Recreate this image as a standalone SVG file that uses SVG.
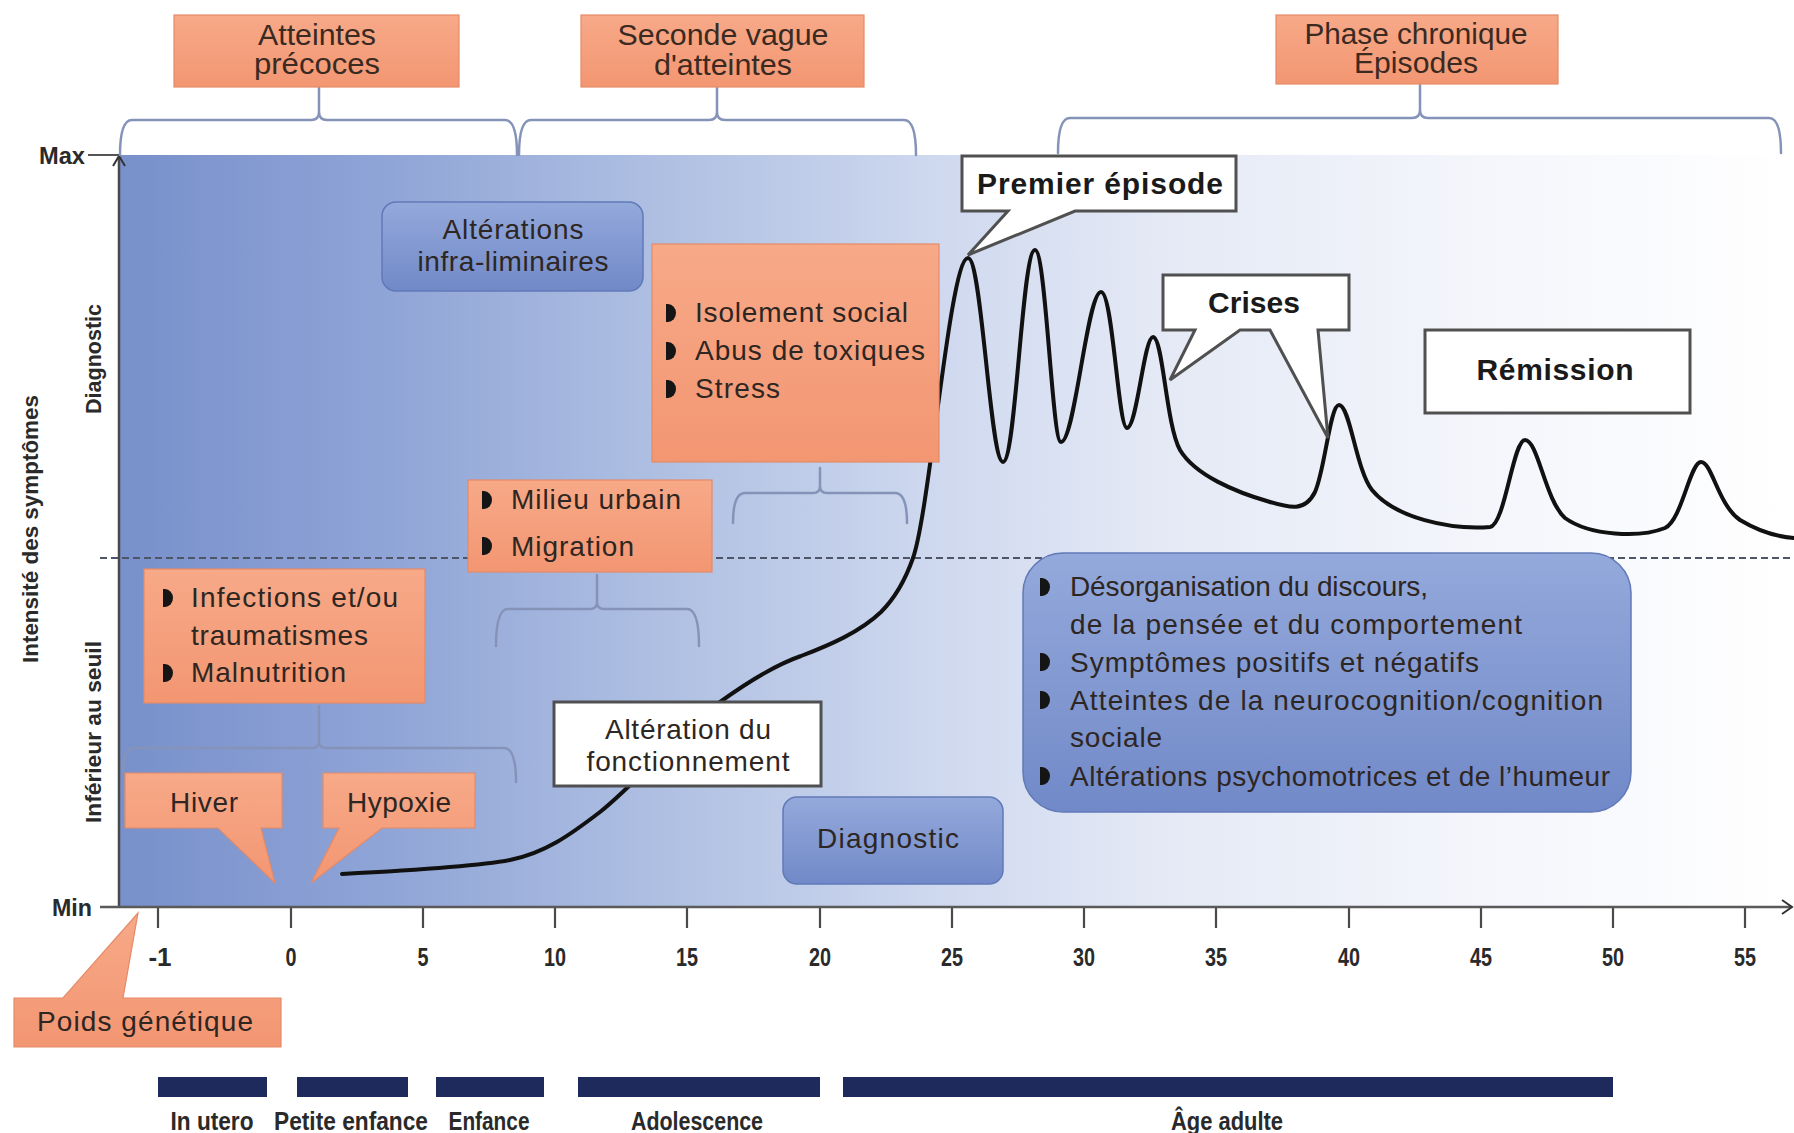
<svg xmlns="http://www.w3.org/2000/svg" xmlns:xlink="http://www.w3.org/1999/xlink" width="1794" height="1133" viewBox="0 0 1794 1133">
<style>
.t{font-family:"Liberation Sans",Arial,sans-serif;fill:#2e2622;font-size:28px}
.tb{font-family:"Liberation Sans",Arial,sans-serif;fill:#1a1a1a;font-size:30px;font-weight:bold}
.c{font-family:"Liberation Sans Narrow","Liberation Sans",Arial,sans-serif;fill:#2a2a2a;font-weight:bold}
.top{font-family:"Liberation Sans Narrow","Liberation Sans",Arial,sans-serif;fill:#3a2a22;font-size:29px}
.or{fill:url(#og);stroke:#e48a68;stroke-width:1.2}
.bl{fill:url(#bg2);stroke:#6179b8;stroke-width:1.5}
.wh{fill:#ffffff;stroke:#505050;stroke-width:3}
.br{fill:none;stroke:#8593b8;stroke-width:2.5;stroke-linecap:round}
.tick{stroke:#4a4a4a;stroke-width:2.2}
</style>
<defs>
<linearGradient id="bgp" x1="0" y1="0" x2="1" y2="0">
<stop offset="0" stop-color="#7890cb"/>
<stop offset="0.15" stop-color="#8ea3d6"/>
<stop offset="0.32" stop-color="#aebfe2"/>
<stop offset="0.48" stop-color="#cdd7ee"/>
<stop offset="0.62" stop-color="#e4e9f5"/>
<stop offset="0.8" stop-color="#f3f5fb"/>
<stop offset="1" stop-color="#ffffff"/>
</linearGradient>
<linearGradient id="og" x1="0" y1="0" x2="0" y2="1">
<stop offset="0" stop-color="#f7a988"/>
<stop offset="1" stop-color="#f39672"/>
</linearGradient>
<linearGradient id="bg2" x1="0" y1="0" x2="0" y2="1">
<stop offset="0" stop-color="#94a9db"/>
<stop offset="1" stop-color="#7189c8"/>
</linearGradient>
<path id="bul" d="M-2,-9 h2 a8,9 0 0 1 0,18 h-2 Z" fill="#151515"/>
</defs>

<rect width="1794" height="1133" fill="#ffffff"/>
<rect x="119" y="155" width="1675" height="752" fill="url(#bgp)"/>

<g id="axes">
<line x1="119" y1="907" x2="119" y2="157" stroke="#4a4a4a" stroke-width="2.5"/>
<path d="M113,166 L119,156 L125,166" fill="none" stroke="#333" stroke-width="2"/>
<line x1="88" y1="155" x2="119" y2="155" stroke="#555" stroke-width="2"/>
<line x1="100" y1="907" x2="1791" y2="907" stroke="#5a5a5a" stroke-width="2.5"/>
<path d="M1782,900 L1792,907 L1782,914" fill="none" stroke="#333" stroke-width="2"/>
<text class="c" x="62" y="164" font-size="24" text-anchor="middle" textLength="46" lengthAdjust="spacingAndGlyphs">Max</text>
<text class="c" x="72" y="916" font-size="24" text-anchor="middle" textLength="40" lengthAdjust="spacingAndGlyphs">Min</text>
<text class="c" font-size="22" transform="translate(38,529) rotate(-90)" text-anchor="middle" textLength="268" lengthAdjust="spacingAndGlyphs">Intensité des symptômes</text>
<text class="c" font-size="22" transform="translate(101,359) rotate(-90)" text-anchor="middle" textLength="110" lengthAdjust="spacingAndGlyphs">Diagnostic</text>
<text class="c" font-size="22" transform="translate(101,732) rotate(-90)" text-anchor="middle" textLength="182" lengthAdjust="spacingAndGlyphs">Inférieur au seuil</text>
<line x1="100" y1="558" x2="1794" y2="558" stroke="#4d5566" stroke-width="2" stroke-dasharray="7,4"/>
<g class="tick">
<line x1="158" y1="908" x2="158" y2="928"/>
<line x1="291" y1="908" x2="291" y2="928"/>
<line x1="423" y1="908" x2="423" y2="928"/>
<line x1="555" y1="908" x2="555" y2="928"/>
<line x1="687" y1="908" x2="687" y2="928"/>
<line x1="820" y1="908" x2="820" y2="928"/>
<line x1="952" y1="908" x2="952" y2="928"/>
<line x1="1084" y1="908" x2="1084" y2="928"/>
<line x1="1216" y1="908" x2="1216" y2="928"/>
<line x1="1349" y1="908" x2="1349" y2="928"/>
<line x1="1481" y1="908" x2="1481" y2="928"/>
<line x1="1613" y1="908" x2="1613" y2="928"/>
<line x1="1745" y1="908" x2="1745" y2="928"/>
</g>
<g class="c" font-size="26" text-anchor="middle">
<text x="160" y="966">-1</text>
<text x="291" y="966" textLength="11" lengthAdjust="spacingAndGlyphs">0</text>
<text x="423" y="966" textLength="11" lengthAdjust="spacingAndGlyphs">5</text>
<text x="555" y="966" textLength="22" lengthAdjust="spacingAndGlyphs">10</text>
<text x="687" y="966" textLength="22" lengthAdjust="spacingAndGlyphs">15</text>
<text x="820" y="966" textLength="22" lengthAdjust="spacingAndGlyphs">20</text>
<text x="952" y="966" textLength="22" lengthAdjust="spacingAndGlyphs">25</text>
<text x="1084" y="966" textLength="22" lengthAdjust="spacingAndGlyphs">30</text>
<text x="1216" y="966" textLength="22" lengthAdjust="spacingAndGlyphs">35</text>
<text x="1349" y="966" textLength="22" lengthAdjust="spacingAndGlyphs">40</text>
<text x="1481" y="966" textLength="22" lengthAdjust="spacingAndGlyphs">45</text>
<text x="1613" y="966" textLength="22" lengthAdjust="spacingAndGlyphs">50</text>
<text x="1745" y="966" textLength="22" lengthAdjust="spacingAndGlyphs">55</text>
</g>
</g>

<g id="connectors">
<path class="br" d="M120,155 Q120,120 132,120 L311,120 Q319,120 319,112 L319,88 M319,112 Q319,120 327,120 L505,120 Q517,120 517,155"/>
<path class="br" d="M519,155 Q519,120 531,120 L709,120 Q717,120 717,112 L717,88 M717,112 Q717,120 725,120 L904,120 Q916,120 916,155"/>
<path class="br" d="M1058,153 Q1058,118 1070,118 L1412,118 Q1420,118 1420,110 L1420,85 M1420,110 Q1420,118 1428,118 L1769,118 Q1781,118 1781,153"/>
<path class="br" d="M733,523 Q733,493 745,493 L813,493 Q820,493 820,486 L820,468 M820,486 Q820,493 827,493 L895,493 Q907,493 907,523"/>
<path class="br" d="M496,646 Q496,609 508,609 L590,609 Q597,609 597,602 L597,575 M597,602 Q597,609 604,609 L687,609 Q699,609 699,646"/>
<path class="br" d="M123,772 Q123,748 135,748 L312,748 Q319,748 319,741 L319,706 M319,741 Q319,748 326,748 L504,748 Q516,748 516,782"/>
</g>

<g id="curve">
<path fill="none" stroke="#111" stroke-width="4" stroke-linejoin="round" stroke-linecap="round" d="M342,874 C420,870 480,866 510,860 C545,853 570,835 600,812 C640,780 680,730 720,702 C745,684 775,665 801,656 C830,645 860,632 881,612 C895,598 906,578 913,558 C930,510 950,258 968,258 C982,258 990,462 1003,462 C1016,462 1022,250 1035,250 C1046,250 1052,442 1061,442 C1075,442 1087,292 1101,292 C1113,292 1118,428 1127,428 C1137,428 1144,337 1153,337 C1163,337 1166,425 1180,450 C1195,475 1235,492 1270,502 C1290,508 1305,512 1315,492 C1325,470 1330,405 1339,405 C1350,405 1356,470 1372,490 C1395,518 1450,530 1490,527 C1505,525 1513,440 1525,440 C1538,440 1545,500 1565,518 C1590,536 1640,538 1665,528 C1682,520 1690,462 1701,462 C1712,462 1718,505 1740,520 C1760,532 1780,537 1794,538"/>
</g>

<g id="atteintes-precoces">
<rect class="or" x="174" y="15" width="285" height="72"/>
<text class="top" x="317" y="45" text-anchor="middle" textLength="118" lengthAdjust="spacingAndGlyphs">Atteintes</text>
<text class="top" x="317" y="74" text-anchor="middle" textLength="126" lengthAdjust="spacingAndGlyphs">précoces</text>
</g>
<g id="seconde-vague">
<rect class="or" x="581" y="15" width="283" height="72"/>
<text class="top" x="723" y="45" text-anchor="middle" textLength="211" lengthAdjust="spacingAndGlyphs">Seconde vague</text>
<text class="top" x="723" y="75" text-anchor="middle" textLength="138" lengthAdjust="spacingAndGlyphs">d'atteintes</text>
</g>
<g id="phase-chronique">
<rect class="or" x="1276" y="15" width="282" height="69"/>
<text class="top" x="1416" y="44" text-anchor="middle" textLength="223" lengthAdjust="spacingAndGlyphs">Phase chronique</text>
<text class="top" x="1416" y="73" text-anchor="middle" textLength="124" lengthAdjust="spacingAndGlyphs">Épisodes</text>
</g>

<g id="alterations-infra">
<rect class="bl" x="382" y="202" width="261" height="89" rx="14"/>
<text class="t" x="513" y="239" text-anchor="middle" textLength="141">Altérations</text>
<text class="t" x="513" y="271" text-anchor="middle" textLength="191">infra-liminaires</text>
</g>

<g id="isolement">
<rect class="or" x="652" y="244" width="287" height="218"/>
<use href="#bul" x="668" y="313"/>
<use href="#bul" x="668" y="351"/>
<use href="#bul" x="668" y="389"/>
<text class="t" x="695" y="322" textLength="213">Isolement social</text>
<text class="t" x="695" y="360" textLength="230">Abus de toxiques</text>
<text class="t" x="695" y="398" textLength="85">Stress</text>
</g>

<g id="milieu">
<rect class="or" x="468" y="480" width="244" height="92"/>
<use href="#bul" x="484" y="500"/>
<use href="#bul" x="484" y="546"/>
<text class="t" x="511" y="509" textLength="170">Milieu urbain</text>
<text class="t" x="511" y="556" textLength="123">Migration</text>
</g>

<g id="infections">
<rect class="or" x="144" y="569" width="281" height="134"/>
<use href="#bul" x="165" y="598"/>
<use href="#bul" x="165" y="673"/>
<text class="t" x="191" y="607" textLength="207">Infections et/ou</text>
<text class="t" x="191" y="645" textLength="177">traumatismes</text>
<text class="t" x="191" y="682" textLength="155">Malnutrition</text>
</g>

<g id="hiver">
<path class="or" d="M125,773 H282 V828 H261 L275,883 L218,828 H125 Z"/>
<text class="t" x="204" y="812" text-anchor="middle" textLength="68">Hiver</text>
</g>
<g id="hypoxie">
<path class="or" d="M323,773 H475 V828 H382 L311,883 L339,828 H323 Z"/>
<text class="t" x="399" y="812" text-anchor="middle" textLength="104">Hypoxie</text>
</g>
<g id="poids-genetique">
<path class="or" d="M14,998 H63 L138,913 L123,998 H281 V1047 H14 Z"/>
<text class="t" x="145" y="1031" text-anchor="middle" textLength="216">Poids génétique</text>
</g>

<g id="alteration-fonctionnement">
<rect class="wh" x="554" y="702" width="267" height="84" stroke-width="2.5"/>
<text class="t" x="688" y="739" text-anchor="middle" textLength="166">Altération du</text>
<text class="t" x="688" y="771" text-anchor="middle" textLength="203">fonctionnement</text>
</g>

<g id="diagnostic">
<rect class="bl" x="783" y="797" width="220" height="87" rx="14"/>
<text class="t" x="888" y="848" text-anchor="middle" textLength="142">Diagnostic</text>
</g>

<g id="symptomes">
<rect class="bl" x="1023" y="553" width="608" height="259" rx="40"/>
<use href="#bul" x="1042" y="587"/>
<use href="#bul" x="1042" y="662"/>
<use href="#bul" x="1042" y="700"/>
<use href="#bul" x="1042" y="776"/>
<text class="t" x="1070" y="596" textLength="358">Désorganisation du discours,</text>
<text class="t" x="1070" y="634" textLength="452">de la pensée et du comportement</text>
<text class="t" x="1070" y="672" textLength="409">Symptômes positifs et négatifs</text>
<text class="t" x="1070" y="710" textLength="533">Atteintes de la neurocognition/cognition</text>
<text class="t" x="1070" y="747" textLength="92">sociale</text>
<text class="t" x="1070" y="786" textLength="540">Altérations psychomotrices et de l’humeur</text>
</g>

<g id="premier-episode">
<path class="wh" d="M962,156 H1236 V211 H1075 L968,255 L1008,211 H962 Z"/>
<text class="tb" x="1100" y="194" text-anchor="middle" textLength="246">Premier épisode</text>
</g>
<g id="crises">
<path class="wh" d="M1163,275 H1349 V330 H1318 L1328,438 L1270,330 H1240 L1170,380 L1195,330 H1163 Z"/>
<text class="tb" x="1254" y="313" text-anchor="middle" textLength="92">Crises</text>
</g>
<g id="remission">
<rect class="wh" x="1425" y="330" width="265" height="83"/>
<text class="tb" x="1555" y="380" text-anchor="middle" textLength="157">Rémission</text>
</g>

<g id="periodes">
<g fill="#1f2a5c">
<rect x="158" y="1077" width="109" height="20"/>
<rect x="297" y="1077" width="111" height="20"/>
<rect x="436" y="1077" width="108" height="20"/>
<rect x="578" y="1077" width="242" height="20"/>
<rect x="843" y="1077" width="770" height="20"/>
</g>
<g class="c" font-size="26" text-anchor="middle">
<text x="212" y="1130" textLength="83" lengthAdjust="spacingAndGlyphs">In utero</text>
<text x="351" y="1130" textLength="154" lengthAdjust="spacingAndGlyphs">Petite enfance</text>
<text x="489" y="1130" textLength="81" lengthAdjust="spacingAndGlyphs">Enfance</text>
<text x="697" y="1130" textLength="132" lengthAdjust="spacingAndGlyphs">Adolescence</text>
<text x="1227" y="1130" textLength="112" lengthAdjust="spacingAndGlyphs">Âge adulte</text>
</g>
</g>
</svg>
